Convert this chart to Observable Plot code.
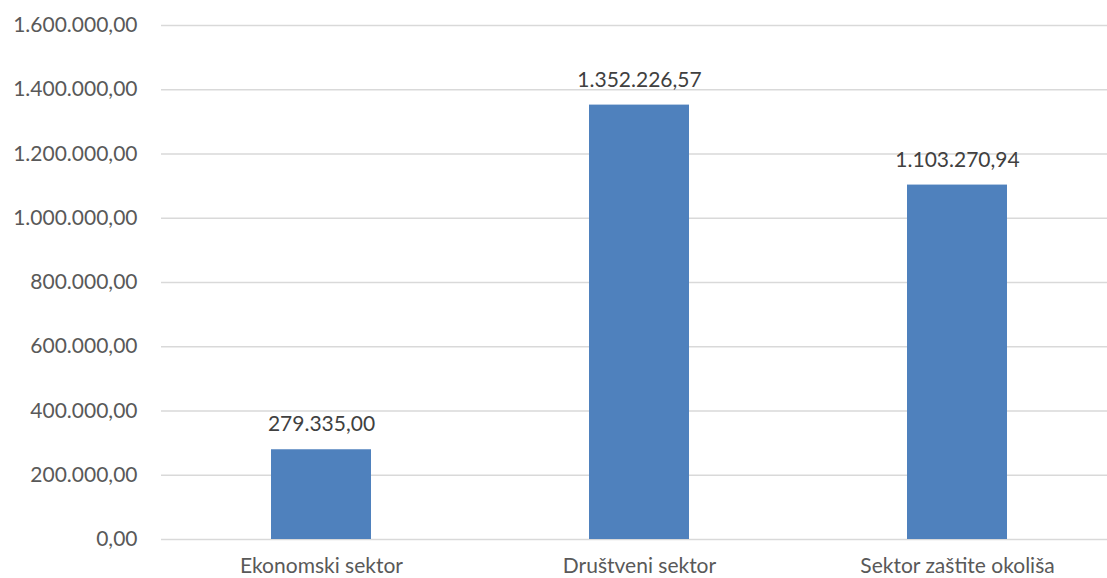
<!DOCTYPE html>
<html>
<head>
<meta charset="utf-8">
<script src="https://cdn.jsdelivr.net/npm/d3@7"></script>
<script src="https://cdn.jsdelivr.net/npm/@observablehq/plot@0.6"></script>
<style>
  html, body { margin: 0; padding: 0; background: #fff; overflow: hidden; }
  #chart { width: 1107px; height: 578px; }
</style>
</head>
<body>
<div id="chart"></div>
<script>
const categories = ["Ekonomski sektor", "Društveni sektor", "Sektor zaštite okoliša"];
const values = [279335.00, 1352226.57, 1103270.94];
const yTicks = [0, 200000, 400000, 600000, 800000, 1000000, 1200000, 1400000, 1600000];

function fmt(v) {
  const fixed = Math.abs(v).toFixed(2);
  const [intPart, dec] = fixed.split(".");
  const withDots = intPart.replace(/\B(?=(\d{3})+(?!\d))/g, ".");
  return (v < 0 ? "-" : "") + withDots + "," + dec;
}

const data = categories.map((c, i) => ({category: c, value: values[i]}));
const font = "Lato, 'Noto Sans', sans-serif";

const chart = Plot.plot({
  width: 1107,
  height: 578,
  marginLeft: 161,
  marginRight: -9,
  marginTop: 25,
  marginBottom: 39,
  style: {fontFamily: font, fontSize: "21px", color: "#595959", background: "#fff", overflow: "visible"},
  x: {domain: categories, paddingInner: 0.686, paddingOuter: 0.343, label: null},
  y: {domain: [0, 1600000], label: null},
  marks: [
    Plot.gridY(yTicks, {stroke: "#D9D9D9", strokeOpacity: 1, strokeWidth: 1.3}),
    Plot.barY(data, {x: "category", y: "value", fill: "#4F81BD"}),
    Plot.text(data, {x: "category", y: "value", text: d => fmt(d.value), dy: -25, fontSize: 21, fill: "#404040"}),
    Plot.axisY(yTicks, {tickSize: 0, tickPadding: 24, tickFormat: fmt, fontSize: 21, fill: "#595959", label: null}),
    Plot.axisX({tickSize: 0, tickPadding: 19, fontSize: 21, fill: "#595959", label: null})
  ]
});
document.getElementById("chart").appendChild(chart);
</script>
</body>
</html>
